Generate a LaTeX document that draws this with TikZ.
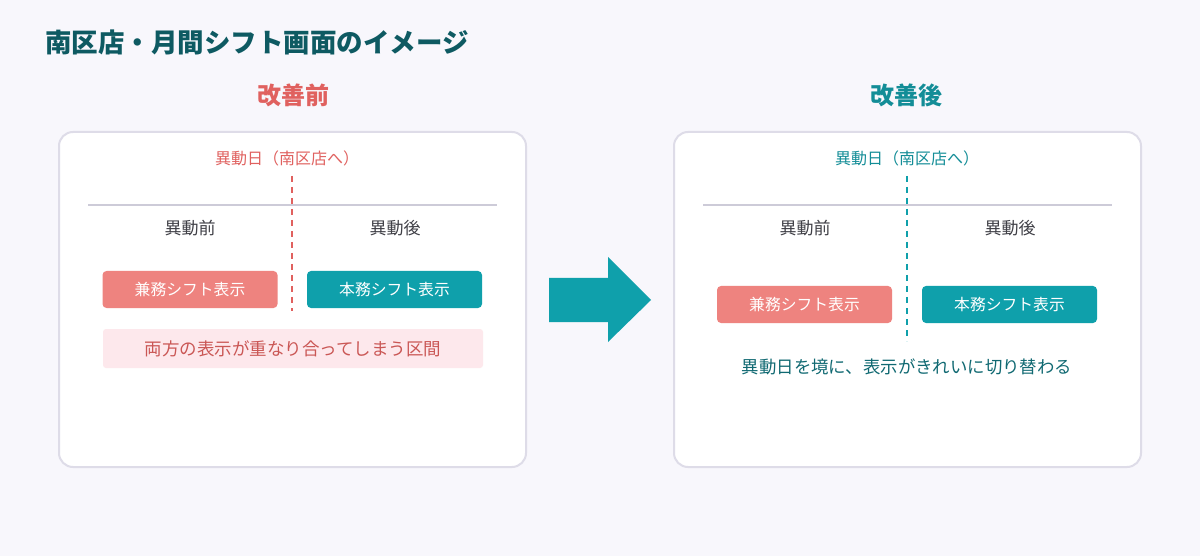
\documentclass[tikz,border=0pt]{standalone}
\usepackage{fontspec}
\setmainfont{Noto Sans CJK JP}
\usepackage{tikz}
\usepackage{xcolor}

\begin{document}
\begin{tikzpicture}[x=1pt,y=-1pt,
  card/.style={draw=cardline,line width=2,fill=white,rounded corners=14},
  shiftbox/.style={minimum width=175,minimum height=37,inner sep=0,rounded corners=4,text=white,font=\fontsize{15.8}{16}\selectfont},
  colhead/.style={text=headgray,font=\fontsize{17}{17}\selectfont},
  daylabel/.style={font=\fontsize{16}{16}\selectfont}]
\definecolor{bgcol}{HTML}{F8F7FC}
\definecolor{cardline}{HTML}{DEDCE8}
\definecolor{axisline}{HTML}{CDCBD8}
\definecolor{headgray}{HTML}{3F3F46}
\definecolor{titleteal}{HTML}{0E5A62}
\definecolor{salmon}{HTML}{E0615F}
\definecolor{salmonbox}{HTML}{EE837F}
\definecolor{tealbox}{HTML}{0FA0AB}
\definecolor{tealtext}{HTML}{138D97}
\definecolor{pinkband}{HTML}{FDE8EC}
\fill[bgcol] (0,0) rectangle (1200,556);
\node[anchor=west,inner sep=0,text=titleteal,font=\fontsize{26.5}{27}\selectfont\bfseries] (title) at (45,42) {南区店・月間シフト画面のイメージ};
\node[text=salmon,font=\fontsize{24}{24}\selectfont\bfseries] (beforehead) at (293,95) {改善前};
\node[text=tealtext,font=\fontsize{24}{24}\selectfont\bfseries] (afterhead) at (906,95) {改善後};
% cards
\foreach \ox in {0,615}
{ \draw[card] (59+\ox,132) rectangle (526+\ox,467);
  \draw[axisline,line width=2.5] (88+\ox,205) -- (497+\ox,205);
  \node[colhead] at (190+\ox,228) {異動前};
  \node[colhead] at (395+\ox,228) {異動後};}
% before
\node[daylabel,text=salmon] (dayL) at (287,158) {異動日（南区店へ）};
\coordinate (cutLtop) at (292,176);
\coordinate (cutLbot) at (292,311);
\draw[salmon,line width=2.5,dash pattern=on 6 off 5] (cutLtop) -- (cutLbot);
\node[shiftbox,fill=salmonbox] (kenL) at (190,289.5) {兼務シフト表示};
\node[shiftbox,fill=tealbox] (honL) at (394.5,289.5) {本務シフト表示};
\node[fill=pinkband,minimum width=380,minimum height=39,inner sep=0,rounded corners=3,text=salmon!90!black,font=\fontsize{17.5}{18}\selectfont] (overlap) at (293,348.5) {両方の表示が重なり合ってしまう区間};
% after
\node[daylabel,text=tealtext] (dayR) at (907,158) {異動日（南区店へ）};
\coordinate (cutRtop) at (907,176);
\coordinate (cutRbot) at (907,341);
\draw[tealbox,line width=2.5,dash pattern=on 6 off 5] (cutRtop) -- (cutRbot);
\node[shiftbox,fill=salmonbox] (kenR) at (804.5,304.5) {兼務シフト表示};
\node[shiftbox,fill=tealbox] (honR) at (1009.5,304.5) {本務シフト表示};
\node[text=titleteal!70!tealtext,font=\fontsize{17.4}{18}\selectfont] (switch) at (907,367) {異動日を境に、表示がきれいに切り替わる};
% big arrow
\fill[tealbox] (549,278) -- (608,278) -- (608,257) -- (651,300) -- (608,342) -- (608,322) -- (549,322) -- cycle;
\end{tikzpicture}
\end{document}
